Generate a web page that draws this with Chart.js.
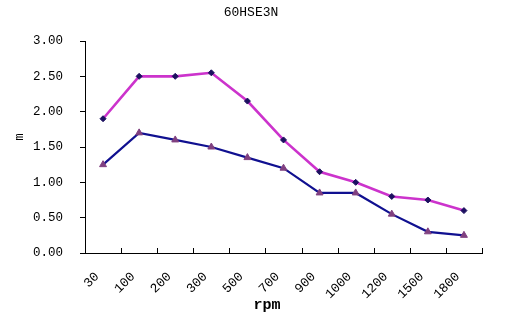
<!DOCTYPE html>
<html>
<head>
<meta charset="utf-8">
<title>60HSE3N</title>
<script src="https://cdn.jsdelivr.net/npm/chart.js@4.4.1/dist/chart.umd.min.js"></script>
<style>
    html, body { margin: 0; padding: 0; background: #fff; }
</style>
</head>
<body>
<canvas id="grafico" width="509" height="321"></canvas>
<script>
/* ==========================================================================
   1. DADOS
   ========================================================================== */
const rotacoes = ['30', '100', '200', '300', '500', '700', '900', '1000', '1200', '1500', '1800'];
const serieMagenta = [1.9, 2.5, 2.5, 2.55, 2.15, 1.6, 1.15, 1.0, 0.8, 0.75, 0.6];
const serieAzul = [1.25, 1.7, 1.6, 1.5, 1.35, 1.2, 0.85, 0.85, 0.55, 0.3, 0.25];
const yMin = 0;
const yMax = 3;
const yPasso = 0.5;

const fonteMono = '"Liberation Mono", "DejaVu Sans Mono", monospace';

/* ==========================================================================
   2. PLUGIN: título, marcas internas do eixo X e títulos dos eixos
   ========================================================================== */
const eixosExcel = {
    id: 'eixosExcel',
    afterDraw(chart) {
        const { ctx, scales: { x } } = chart;
        ctx.save();
        ctx.strokeStyle = '#000';
        ctx.lineWidth = 1;
        ctx.beginPath();
        for (let i = 0; i <= rotacoes.length; i++) {
            const px = Math.round(x.getPixelForValue(i - 0.5)) + 0.5;
            ctx.moveTo(px, x.top);
            ctx.lineTo(px, x.top - 5);
        }
        ctx.stroke();

        ctx.fillStyle = '#000';
        ctx.textAlign = 'center';
        ctx.textBaseline = 'middle';
        ctx.font = '13px ' + fonteMono;
        ctx.fillText('60HSE3N', 251, 13);

        ctx.font = 'bold 15px ' + fonteMono;
        ctx.fillText('rpm', 267, 305);

        ctx.translate(20, 137);
        ctx.rotate(-Math.PI / 2);
        ctx.font = '12px ' + fonteMono;
        ctx.fillText('m', 0, 0);
        ctx.restore();
    }
};

/* ==========================================================================
   3. GRÁFICO
   ========================================================================== */
new Chart(document.getElementById('grafico'), {
    type: 'line',
    data: {
        labels: rotacoes,
        datasets: [
            {
                data: serieAzul,
                borderColor: '#101090',
                borderWidth: 2.2,
                tension: 0,
                pointStyle: 'triangle',
                pointRadius: 4,
                pointBackgroundColor: '#804080',
                pointBorderColor: '#804080',
                pointBorderWidth: 1
            },
            {
                data: serieMagenta,
                borderColor: '#CC33CC',
                borderWidth: 2.6,
                tension: 0,
                pointStyle: 'rectRot',
                pointRadius: 3,
                pointBackgroundColor: '#1c1060',
                pointBorderColor: '#1c1060',
                pointBorderWidth: 1
            }
        ]
    },
    options: {
        responsive: false,
        animation: false,
        devicePixelRatio: 1,
        layout: { padding: { left: 0, right: 27, top: 41, bottom: 0 } },
        plugins: {
            legend: { display: false },
            tooltip: { enabled: false },
            title: { display: false }
        },
        scales: {
            x: {
                offset: true,
                grid: { drawOnChartArea: false, drawTicks: false, offset: true },
                border: { color: '#000', width: 1 },
                ticks: {
                    color: '#000',
                    font: { family: fonteMono, size: 13 },
                    minRotation: 45,
                    maxRotation: 45,
                    autoSkip: false,
                    padding: 16,
                    labelOffset: -6
                },
                afterFit(s) { s.height = 68; }
            },
            y: {
                min: yMin,
                max: yMax,
                grid: { drawOnChartArea: false, drawTicks: true, tickLength: 5, color: '#000' },
                border: { color: '#000', width: 1 },
                ticks: {
                    stepSize: yPasso,
                    color: '#000',
                    font: { family: fonteMono, size: 12.5 },
                    padding: 17,
                    callback: v => v.toFixed(2)
                },
                afterFit(s) { s.width = 85; }
            }
        }
    },
    plugins: [eixosExcel]
});
</script>
</body>
</html>
